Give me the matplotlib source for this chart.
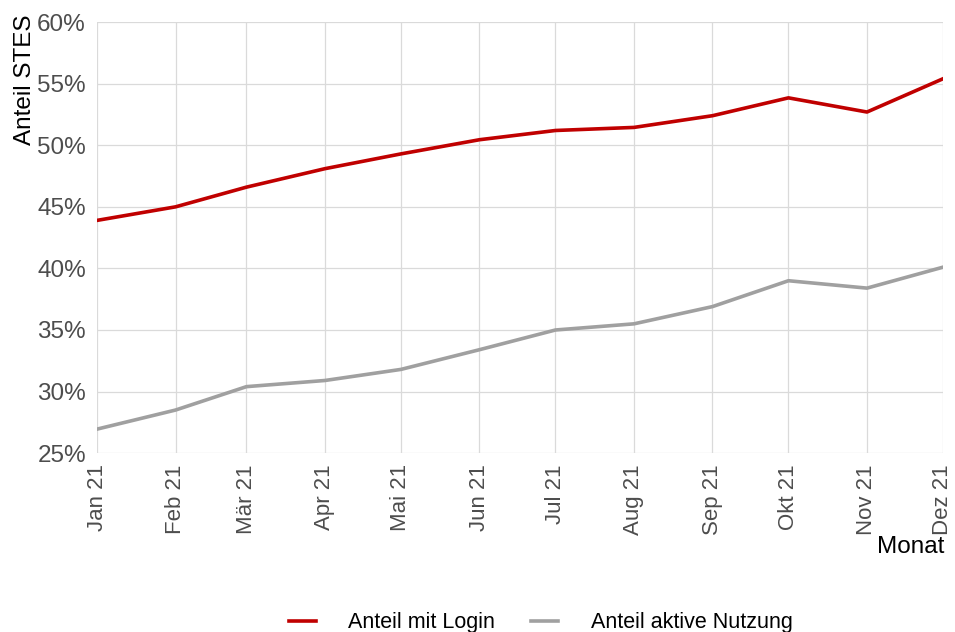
import datetime as dt
import matplotlib
matplotlib.use('Agg')
import matplotlib.pyplot as plt
from matplotlib.ticker import FuncFormatter

plt.rcParams['font.family'] = ['Liberation Sans', 'DejaVu Sans']

# Monatswerte (Anteil in %)
monate = [dt.date(2021, m, 1) for m in range(1, 13)]
monat_labels = ['Jan 21', 'Feb 21', 'Mär 21', 'Apr 21', 'Mai 21', 'Jun 21',
                'Jul 21', 'Aug 21', 'Sep 21', 'Okt 21', 'Nov 21', 'Dez 21']
anteil_login = [43.9, 45.0, 46.6, 48.1, 49.3, 50.45, 51.2, 51.45, 52.4, 53.85, 52.7, 55.4]
anteil_aktiv = [26.95, 28.5, 30.4, 30.9, 31.8, 33.4, 35.0, 35.5, 36.9, 39.0, 38.4, 40.1]
y_ticks = [25, 30, 35, 40, 45, 50, 55, 60]

fig = plt.figure(figsize=(9.55, 6.32), dpi=100)
ax = fig.add_axes([0.1016, 0.283, 0.8858, 0.682])

ax.plot(monate, anteil_login, color='#C00000', lw=2.6, label='Anteil mit Login', zorder=3)
ax.plot(monate, anteil_aktiv, color='#A0A0A0', lw=2.6, label='Anteil aktive Nutzung', zorder=3)

ax.set_xlim(monate[0], monate[-1])
ax.set_ylim(25, 60)
ax.set_xticks(monate)
ax.set_xticklabels(monat_labels, rotation=90, va='top', ha='center')
ax.set_yticks(y_ticks)
ax.yaxis.set_major_formatter(FuncFormatter(lambda v, p: f'{v:.0f}%'))

ax.grid(True, color='#DADADA', lw=0.9)
ax.set_axisbelow(True)
for s in ax.spines.values():
    s.set_visible(False)
ax.tick_params(length=0, labelcolor='#4D4D4D', pad=8)
ax.tick_params(axis='y', labelsize=17.5)
ax.tick_params(axis='x', labelsize=16)

ax.set_ylabel('Anteil STES', fontsize=17.5, loc='top', labelpad=0)
ax.yaxis.set_label_coords(-0.072, 1.017)
ax.set_xlabel('Monat', fontsize=17.5, loc='right')
ax.xaxis.set_label_coords(1.002, -0.192)

fig.legend(loc='lower center', bbox_to_anchor=(0.566, -0.033), ncol=2, frameon=False,
           fontsize=15.5, handlelength=1.25, handletextpad=1.5, columnspacing=1.7)

fig.savefig('out.png', dpi=100)
